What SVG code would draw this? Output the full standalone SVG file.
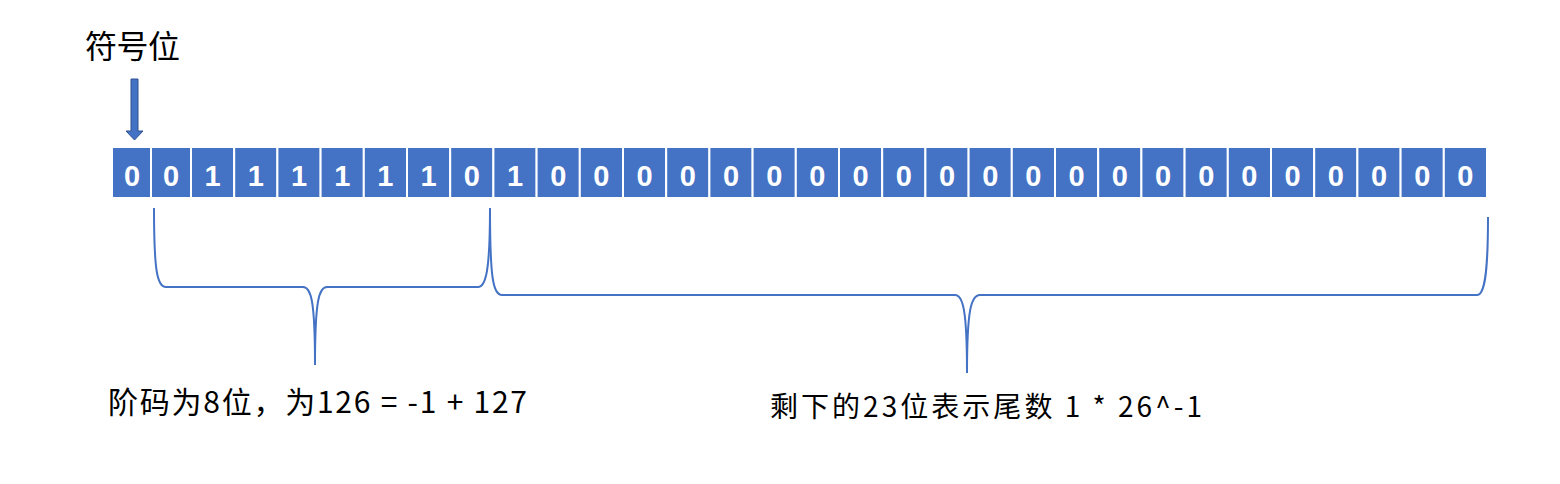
<svg xmlns="http://www.w3.org/2000/svg" width="1560" height="484" viewBox="0 0 1560 484">
<style>
.cell{fill:#4472C4;stroke:#FFFFFF;stroke-width:2}
.bit{fill:#FFFFFF;font-family:"Liberation Sans","Noto Sans",sans-serif;font-size:29px;font-weight:bold;text-anchor:middle}
.lbl{fill:#000000;font-family:"Noto Sans CJK SC","Liberation Sans",sans-serif}
.brace{fill:none;stroke:#4472C4;stroke-width:2}
</style>
<g id="sign-label"><text class="lbl" x="85" y="58" font-size="32" textLength="95" lengthAdjust="spacing">符号位</text></g>
<g id="sign-arrow"><path d="M131,79 H138 V131 H143 L134.5,140 L126,131 H131 Z" fill="#4472C4" stroke="#2F528F" stroke-width="1"/></g>
<g id="bits">
<rect class="cell" x="112" y="147" width="39" height="51"/><text class="bit" x="132" y="186">0</text>
<rect class="cell" x="151" y="147" width="40" height="51"/><text class="bit" x="171" y="186">0</text>
<rect class="cell" x="191" y="147" width="43.2" height="51"/><text class="bit" x="212.6" y="186">1</text>
<rect class="cell" x="234.2" y="147" width="43.2" height="51"/><text class="bit" x="255.8" y="186">1</text>
<rect class="cell" x="277.4" y="147" width="43.2" height="51"/><text class="bit" x="299" y="186">1</text>
<rect class="cell" x="320.6" y="147" width="43.2" height="51"/><text class="bit" x="342.2" y="186">1</text>
<rect class="cell" x="363.8" y="147" width="43.2" height="51"/><text class="bit" x="385.4" y="186">1</text>
<rect class="cell" x="407" y="147" width="43.2" height="51"/><text class="bit" x="428.6" y="186">1</text>
<rect class="cell" x="450.2" y="147" width="43.2" height="51"/><text class="bit" x="471.8" y="186">0</text>
<rect class="cell" x="493.4" y="147" width="43.2" height="51"/><text class="bit" x="515" y="186">1</text>
<rect class="cell" x="536.6" y="147" width="43.2" height="51"/><text class="bit" x="558.2" y="186">0</text>
<rect class="cell" x="579.8" y="147" width="43.2" height="51"/><text class="bit" x="601.4" y="186">0</text>
<rect class="cell" x="623" y="147" width="43.2" height="51"/><text class="bit" x="644.6" y="186">0</text>
<rect class="cell" x="666.2" y="147" width="43.2" height="51"/><text class="bit" x="687.8" y="186">0</text>
<rect class="cell" x="709.4" y="147" width="43.2" height="51"/><text class="bit" x="731" y="186">0</text>
<rect class="cell" x="752.6" y="147" width="43.2" height="51"/><text class="bit" x="774.2" y="186">0</text>
<rect class="cell" x="795.8" y="147" width="43.2" height="51"/><text class="bit" x="817.4" y="186">0</text>
<rect class="cell" x="839" y="147" width="43.2" height="51"/><text class="bit" x="860.6" y="186">0</text>
<rect class="cell" x="882.2" y="147" width="43.2" height="51"/><text class="bit" x="903.8" y="186">0</text>
<rect class="cell" x="925.4" y="147" width="43.2" height="51"/><text class="bit" x="947" y="186">0</text>
<rect class="cell" x="968.6" y="147" width="43.2" height="51"/><text class="bit" x="990.2" y="186">0</text>
<rect class="cell" x="1011.8" y="147" width="43.2" height="51"/><text class="bit" x="1033.4" y="186">0</text>
<rect class="cell" x="1055" y="147" width="43.2" height="51"/><text class="bit" x="1076.6" y="186">0</text>
<rect class="cell" x="1098.2" y="147" width="43.2" height="51"/><text class="bit" x="1119.8" y="186">0</text>
<rect class="cell" x="1141.4" y="147" width="43.2" height="51"/><text class="bit" x="1163" y="186">0</text>
<rect class="cell" x="1184.6" y="147" width="43.2" height="51"/><text class="bit" x="1206.2" y="186">0</text>
<rect class="cell" x="1227.8" y="147" width="43.2" height="51"/><text class="bit" x="1249.4" y="186">0</text>
<rect class="cell" x="1271" y="147" width="43.2" height="51"/><text class="bit" x="1292.6" y="186">0</text>
<rect class="cell" x="1314.2" y="147" width="43.2" height="51"/><text class="bit" x="1335.8" y="186">0</text>
<rect class="cell" x="1357.4" y="147" width="43.2" height="51"/><text class="bit" x="1379" y="186">0</text>
<rect class="cell" x="1400.6" y="147" width="43.2" height="51"/><text class="bit" x="1422.2" y="186">0</text>
<rect class="cell" x="1443.8" y="147" width="43.2" height="51"/><text class="bit" x="1465.4" y="186">0</text>
</g>
<g id="connectors">
<path class="brace" d="M154,208 C154,270 157,287 166,287 L303,287 C311,287 315,300 315,365 C315,300 319,287 327,287 L478,287 C486,287 490,270 490,208"/>
<path class="brace" d="M490,208 C490,278 493,295 502,295 L955,295 C963,295 967,310 967,373 C967,310 971,295 980,295 L1477,295 C1484,295 1488,278 1488,217"/>
</g>
<g id="exponent-label"><text class="lbl" x="108" y="413" font-size="30" textLength="419" lengthAdjust="spacing">阶码为8位，为126 = -1 + 127</text></g>
<g id="mantissa-label"><text class="lbl" x="770" y="417" font-size="28" textLength="432" lengthAdjust="spacing">剩下的23位表示尾数 1 * 26^-1</text></g>
</svg>
